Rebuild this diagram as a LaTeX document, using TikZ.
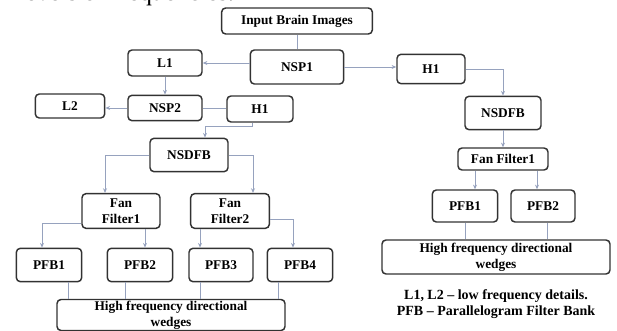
\documentclass[tikz,border=0pt]{standalone}
\usepackage{fontspec}
\setmainfont{Liberation Serif}
\usetikzlibrary{arrows.meta,calc,positioning}
\definecolor{linkc}{RGB}{150,162,190}
\definecolor{boxc}{RGB}{50,50,50}
\tikzset{link/.style={draw=linkc, line width=0.6pt},
  lnk/.style={link, -{Stealth[length=3.5pt,width=3pt]}},
  box/.style={draw=boxc, line width=1.1pt, rounded corners=3pt, align=center,
    inner sep=1pt, font=\fontsize{10}{12}\selectfont\bfseries}}

\begin{document}
\begin{tikzpicture}[x=0.75pt, y=-0.75pt]
  \useasboundingbox (0,0) rectangle (617,331);
  \clip (0,0) rectangle (617,331);
  % page text above
  \node[anchor=base west, font=\fontsize{19}{22}\selectfont, inner sep=0pt] (pagetxt) at (18,1) {levels of frequencies.};
  % top levels
  \node[box, minimum width=113pt, minimum height=19.5pt] (inp) at (297,21) {Input Brain Images};
  \node[box, minimum width=70pt, minimum height=25.5pt] (nsp1) at (297,67) {NSP1};
  \node[box, minimum width=55.5pt, minimum height=19.5pt] (l1) at (165,63) {L1};
  \node[box, minimum width=51pt, minimum height=22pt] (h1r) at (431,69) {H1};
  \node[box, minimum width=52pt, minimum height=18pt] (l2) at (70,106) {L2};
  \node[box, minimum width=55.5pt, minimum height=19pt] (nsp2) at (165,108) {NSP2};
  \node[box, minimum width=49.5pt, minimum height=19.5pt] (h1l) at (260,109) {H1};
  % left branch
  \node[box, minimum width=58.5pt, minimum height=25pt] (nsdfbl) at (189,155) {NSDFB};
  \node[box, minimum width=58.5pt, minimum height=26pt] (ff1) at (121,211) {Fan\\Filter1};
  \node[box, minimum width=59pt, minimum height=26pt] (ff2) at (230,211) {Fan\\Filter2};
  \node[box, minimum width=49pt, minimum height=25pt] (pfb1) at (49,265) {PFB1};
  \node[box, minimum width=49pt, minimum height=25pt] (pfb2) at (140,265) {PFB2};
  \node[box, minimum width=48pt, minimum height=25pt] (pfb3) at (221,265) {PFB3};
  \node[box, minimum width=49pt, minimum height=25pt] (pfb4) at (300,265) {PFB4};
  \node[box, minimum width=171pt, minimum height=22pt] (hfdwl) at (171,315) {High frequency directional\\wedges};
  % right branch
  \node[box, minimum width=57pt, minimum height=25pt] (nsdfbr) at (503,113) {NSDFB};
  \node[box, minimum width=67.5pt, minimum height=16.5pt] (ffr) at (503,159) {Fan Filter1};
  \node[box, minimum width=49pt, minimum height=24pt] (rpfb1) at (465,206) {PFB1};
  \node[box, minimum width=48pt, minimum height=24pt] (rpfb2) at (543,206) {PFB2};
  \node[box, minimum width=171pt, minimum height=25.5pt] (hfdwr) at (496,257) {High frequency directional\\wedges};
  \node[font=\fontsize{10.5}{12}\selectfont\bfseries, align=center, below=8pt of hfdwr] (legend)
    {L1, L2 -- low frequency details.\\PFB -- Parallelogram Filter Bank};
  % decomposition links
  \draw[link] (inp.south) -- (inp.south |- nsp1.north);
  \draw[lnk] (l1.east -| nsp1.west) -- (l1.east);
  \draw[lnk] (nsp1.east) -- (nsp1.east -| h1r.west);
  \draw[lnk] (l1.south) -- (nsp2.north);
  \draw[lnk] (nsp2.west) -- (nsp2.west -| l2.east);
  \draw[link] (nsp2.east) -- (nsp2.east -| h1l.west);
  \draw[lnk] ($(h1l.south)+(-8,0)$) -- ++(0,4) -| ($(nsdfbl.north)+(16,0)$);
  \draw[lnk] (nsdfbl.west) -| ($(ff1.north)+(-16,0)$);
  \draw[lnk] (nsdfbl.east) -| ($(ff2.north)+(23,0)$);
  \draw[lnk] ($(ff1.west)+(0,12)$) -| ($(pfb1.north)+(-7,0)$);
  \draw[lnk] ($(ff1.south)+(24,0)$) -- ($(pfb2.north)+(5,0)$);
  \draw[lnk] ($(ff2.south)+(-30,0)$) -- ($(pfb3.north)+(-21,0)$);
  \draw[lnk] ($(ff2.east)+(0,8)$) -| ($(pfb4.north)+(-7,0)$);
  \draw[link] ($(pfb1.south)+(19,0)$) -- ($(hfdwl.north)+(-103,0)$);
  \draw[link] ($(pfb2.south)+(-15,0)$) -- ($(hfdwl.north)+(-46,0)$);
  \draw[link] ($(pfb3.south)+(-21,0)$) -- ($(hfdwl.north)+(29,0)$);
  \draw[link] ($(pfb4.south)+(-22,0)$) -- ($(hfdwl.north)+(107,0)$);
  \draw[lnk] (h1r.east) -| (nsdfbr.north);
  \draw[lnk] (nsdfbr.south) -- (ffr.north);
  \draw[lnk] ($(ffr.south)+(-28,0)$) -- ($(rpfb1.north)+(10,0)$);
  \draw[lnk] ($(ffr.south)+(34,0)$) -- ($(rpfb2.north)+(-6,0)$);
  \draw[link] (rpfb1.south) -- ($(hfdwr.north)+(-31,0)$);
  \draw[link] ($(rpfb2.south)+(4,0)$) -- ($(hfdwr.north)+(51,0)$);
\end{tikzpicture}
\end{document}
